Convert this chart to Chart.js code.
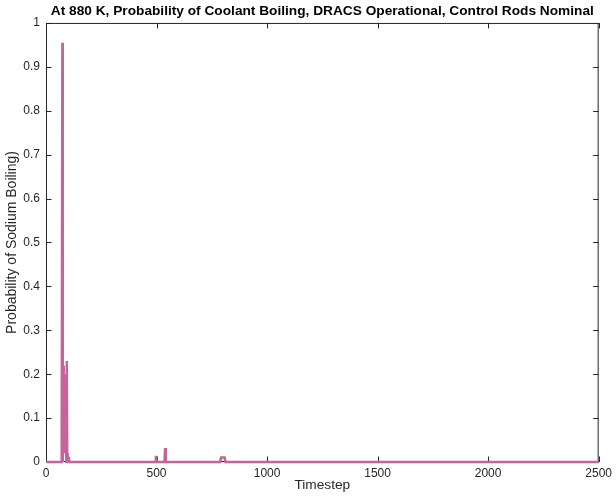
<!DOCTYPE html>
<html lang="en">
<head>
    <meta charset="UTF-8">
    <title>Coolant Boiling Probability</title>
    <script src="https://cdn.jsdelivr.net/npm/chart.js"></script>
    <style>
        * { margin: 0; padding: 0; box-sizing: border-box; }
        body { background: #fff; width: 616px; height: 498px; overflow: hidden; }
        #chart { display: block; }
    </style>
</head>
<body>
    <canvas id="chart" width="616" height="498"></canvas>

    <script>
        const timesteps = [0, 68, 70, 72, 74, 76, 78, 80, 82, 84, 86, 88, 90, 92, 94, 96, 98, 100, 102, 104, 106,
                           494, 497, 500, 536, 539, 542, 788, 792, 808, 812, 2500];
        const probability = [0, 0, 0.1, 0.02, 0.955, 0.0, 0.22, 0.04, 0.2, 0.02, 0.18, 0.05, 0.15, 0.0, 0.23, 0.02, 0.012, 0.01, 0.012, 0.01, 0,
                             0, 0.014, 0, 0, 0.032, 0, 0, 0.01, 0.01, 0, 0];
        const xTicks = [0, 500, 1000, 1500, 2000, 2500];
        const yTicks = [0, 0.1, 0.2, 0.3, 0.4, 0.5, 0.6, 0.7, 0.8, 0.9, 1];

        const points = timesteps.map((t, i) => ({ x: t, y: probability[i] }));

        const axisColor = '#262626';
        const fontFamily = "'Liberation Sans', Arial, sans-serif";

        // matlab style box with inward ticks
        const boxPlugin = {
            id: 'box',
            beforeDatasetsDraw(chart) {
                const { ctx, chartArea: a, scales } = chart;
                const len = 5.5;
                ctx.save();
                ctx.strokeStyle = axisColor;
                ctx.lineWidth = 1;
                ctx.strokeRect(a.left + 0.5, a.top + 0.5, a.right - a.left - 1, a.bottom - a.top - 1);
                ctx.beginPath();
                xTicks.forEach(v => {
                    const px = Math.round(scales.x.getPixelForValue(v)) + 0.5;
                    ctx.moveTo(px, a.bottom); ctx.lineTo(px, a.bottom - len);
                    ctx.moveTo(px, a.top); ctx.lineTo(px, a.top + len);
                });
                yTicks.forEach(v => {
                    const py = Math.round(scales.y.getPixelForValue(v)) + 0.5;
                    ctx.moveTo(a.left, py); ctx.lineTo(a.left + len, py);
                    ctx.moveTo(a.right, py); ctx.lineTo(a.right - len, py);
                });
                ctx.stroke();
                ctx.restore();
            }
        };

        new Chart(document.getElementById('chart'), {
            type: 'line',
            data: {
                datasets: [{
                    data: points,
                    borderColor: '#c5649a',
                    borderWidth: 2.5,
                    pointRadius: 0,
                    tension: 0,
                    clip: false
                }]
            },
            options: {
                responsive: false,
                animation: false,
                layout: { padding: { left: 0, right: 15, top: 0, bottom: 0 } },
                plugins: {
                    legend: { display: false },
                    tooltip: { enabled: false },
                    title: {
                        display: true,
                        text: 'At 880 K, Probability of Coolant Boiling, DRACS Operational, Control Rods Nominal',
                        color: '#000',
                        fullSize: false,
                        font: { family: fontFamily, size: 13.7, weight: 'bold' },
                        padding: { top: 3.5, bottom: 3 }
                    }
                },
                scales: {
                    x: {
                        type: 'linear',
                        min: 0,
                        max: 2500,
                        afterFit: s => { s.height = 36; },
                        afterBuildTicks: s => { s.ticks = xTicks.map(v => ({ value: v })); },
                        grid: { display: false, drawTicks: false },
                        border: { display: false },
                        ticks: {
                            color: axisColor, padding: 4, maxRotation: 0,
                            font: { family: fontFamily, size: 12 },
                            callback: v => String(v)
                        },
                        title: {
                            display: true,
                            text: 'Timestep',
                            color: axisColor,
                            font: { family: fontFamily, size: 13.7 },
                            padding: { top: 0, bottom: 4.5 }
                        }
                    },
                    y: {
                        min: 0,
                        max: 1,
                        afterFit: s => { s.width = 46; },
                        afterBuildTicks: s => { s.ticks = yTicks.map(v => ({ value: v })); },
                        grid: { display: false, drawTicks: false },
                        border: { display: false },
                        ticks: {
                            color: axisColor, padding: 6,
                            font: { family: fontFamily, size: 12 },
                            callback: v => String(v)
                        },
                        title: {
                            display: true,
                            text: 'Probability of Sodium Boiling)',
                            color: axisColor,
                            font: { family: fontFamily, size: 14 },
                            padding: { top: 4, bottom: 0 }
                        }
                    }
                }
            },
            plugins: [boxPlugin]
        });
    </script>
</body>
</html>
